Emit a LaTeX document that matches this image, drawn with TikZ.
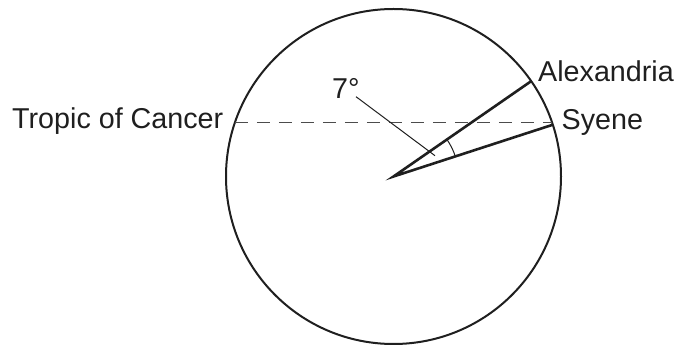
\documentclass[tikz,border=0pt]{standalone}
\usepackage{fontspec}
\setmainfont{Liberation Sans}
\usetikzlibrary{calc}
\begin{document}
\begin{tikzpicture}[x=1pt,y=1pt,
  lbl/.style={inner sep=0pt,anchor=base west,font=\fontsize{28.7}{34}\selectfont,text=black!88},
  earth/.style={line width=2pt,draw=black!88},
  ray/.style={line width=2.6pt,draw=black!88},
  tropic/.style={line width=1pt,draw=black!70,dash pattern=on 13pt off 9pt},
  leader/.style={line width=1pt,draw=black!88},
  anglemark/.style={line width=1pt,draw=black!88}]
\useasboundingbox (0,0) rectangle (678,345);
\coordinate (C) at (393.5,168.5);
\def\R{167.5}
\coordinate (A) at ($(C)+(34.7:\R)$);
\coordinate (S) at ($(C)+(18:\R)$);
\coordinate (TL) at (234.9,222.3);
\coordinate (TR) at (552.1,222.3);
\coordinate (L1) at (356,248.3);
\coordinate (L2) at (435,189.3);
% circle
\draw[earth] (C) circle (\R);
% tropic
\draw[tropic] (TL) -- (TR);
% rays
\draw[ray,line join=miter] (A) -- (C) -- (S);
% angle arc
\draw[anglemark] ($(C)+(18:65)$) arc (18:34.7:65);
% leader
\draw[leader] (L1) -- (L2);
% labels
\node[lbl] (tl) at (12,216.7) {Tropic of Cancer};
\node[lbl] (al) at (538,263.3) {Alexandria};
\node[lbl] (sl) at (561.5,215.5) {Syene};
\node[lbl] (dl) at (332,246.7) {7°};
\end{tikzpicture}
\end{document}
